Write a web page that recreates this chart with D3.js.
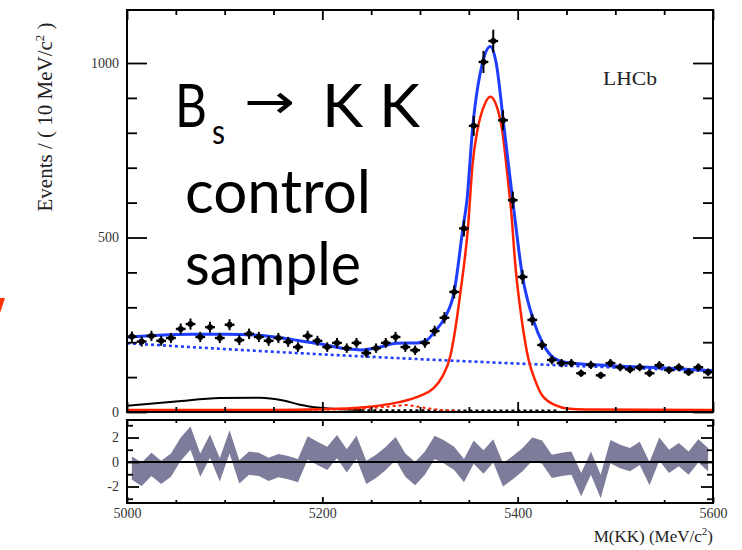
<!DOCTYPE html>
<html>
<head>
<meta charset="utf-8">
<script src="https://cdn.jsdelivr.net/npm/d3@7"></script>
<style>
  body { margin: 0; background: #fff; }
  svg { display: block; }
</style>
</head>
<body>
<script>
// bin centres (10 MeV bins)
var binCenters = [5005,5015,5025,5035,5045,5055,5065,5075,5085,5095,
                  5105,5115,5125,5135,5145,5155,5165,5175,5185,5195,
                  5205,5215,5225,5235,5245,5255,5265,5275,5285,5295,
                  5305,5315,5325,5335,5345,5355,5365,5375,5385,5395,
                  5405,5415,5425,5435,5445,5455,5465,5475,5485,5495,
                  5505,5515,5525,5535,5545,5555,5565,5575,5585,5595];

var counts = [216,202,218,204,212,238,252,215,243,212,
              250,206,224,215,204,212,201,186,218,204,
              186,198,183,198,169,183,198,215,186,177,
              198,232,270,344,526,820,1003,1063,836,607,
              387,264,192,149,140,140,111,135,105,140,
              128,122,128,111,134,120,128,114,128,114];

var pulls = [-0.5,-1,-0.2,-0.85,-0.25,1.05,1.95,-0.25,1.3,-0.65,
             1.65,-0.8,-0.1,-0.2,-0.6,-0.3,-0.45,-0.7,1.15,0.7,
             0.3,1.25,0.1,1.2,-0.85,-0.35,0.3,1.1,-0.25,-0.95,
             -0.1,1.2,0.8,0.3,-0.7,0.8,0,0.9,-1.05,-0.45,
             0.2,1.05,0.8,-0.35,-0.2,-0.1,-1.85,-0.1,-2,0.85,
             0.45,0.2,0.7,-0.95,1.05,0.05,0.6,-0.1,0.9,0.2];

// fit components: [mass, events]
var totalFit = [[5000,214],[5033,220],[5066,223],[5100,223],[5134,220],[5159,212],[5175,205],
                [5200,194],[5225,181],[5240,178],[5260,187],[5276,197],[5297,198],[5307,206],
                [5315,230],[5325,268],[5335,345],[5344,527],[5348,605],[5354,817],[5364,1000],
                [5372,1047],[5378,1000],[5386,817],[5395,605],[5405,388],[5416,264],[5426,195],
                [5437,155],[5450,142],[5475,136],[5500,132],[5550,126],[5600,118]];

var signalFit = [[5000,6],[5150,6],[5200,8],[5240,13],[5260,19],[5280,29],[5300,46],[5313,66],
                 [5323,102],[5331,160],[5336,235],[5341,335],[5349,525],[5354,715],[5359,810],
                 [5366,880],[5372,903],[5378,880],[5384,810],[5390,665],[5394,555],[5397,440],
                 [5404,268],[5411,152],[5418,90],[5425,48],[5440,18],[5450,10],[5470,7],[5600,6]];

var bkgFit = [[5000,197],[5160,171],[5280,154],[5433,135],[5600,117]];

var partRecoFit = [[5000,18],[5050,30],[5095,40],[5136,41],[5160,33],[5177,21],[5198,12],
                   [5225,7],[5240,6]];

var otherFit = [[5240,5],[5440,4]];

var redDottedFit = [[5180,6],[5240,10],[5270,16],[5285,20],[5300,14],[5320,6],[5340,3]];

var yTicksMain = [0,500,1000];
var yTicksPull = [-2,0,2];
var xTicks = [5000,5200,5400,5600];

var W = 742, H = 550;
var svg = d3.select("body").append("svg")
    .attr("width", W)
    .attr("height", H);

// panels
var main = {left: 127, right: 713, top: 10, bottom: 412};
var low = {left: 127, right: 713, top: 420, bottom: 503};

var x = d3.scaleLinear().domain([5000, 5600]).range([main.left, main.right]);
var y = d3.scaleLinear().domain([0, 1000]).range([412, 63]);
var yp = d3.scaleLinear().domain([-2, 2]).range([486.5, 437.5]);

svg.append("defs").append("clipPath").attr("id", "clipMain")
  .append("rect")
    .attr("x", main.left).attr("y", main.top)
    .attr("width", main.right - main.left).attr("height", main.bottom - main.top);

// little red mark on the left edge
svg.append("path")
    .attr("d", "M0,298L5,298L0,313Z")
    .attr("fill", "#ff3300");

// ---- pull panel ----
var band = d3.area()
    .x(function(d, i) { return x(binCenters[i]); })
    .y0(function(d) { return yp(d - 0.95); })
    .y1(function(d) { return yp(d + 0.95); });

svg.append("path")
    .datum(pulls)
    .attr("d", band)
    .attr("fill", "#7d7d9b");

svg.append("line")
    .attr("x1", low.left).attr("x2", low.right)
    .attr("y1", yp(0)).attr("y2", yp(0))
    .attr("stroke", "#000").attr("stroke-width", 2);

// ---- main panel curves ----
var line = d3.line()
    .x(function(d) { return x(d[0]); })
    .y(function(d) { return y(d[1]); })
    .curve(d3.curveMonotoneX);

var curves = svg.append("g").attr("clip-path", "url(#clipMain)");

curves.append("path").datum(bkgFit).attr("d", line)
    .attr("fill", "none").attr("stroke", "#1f3dff").attr("stroke-width", 2.6)
    .attr("stroke-dasharray", "3,3");

curves.append("path").datum(otherFit).attr("d", line)
    .attr("fill", "none").attr("stroke", "#000").attr("stroke-width", 2)
    .attr("stroke-dasharray", "3,3");

curves.append("path").datum(partRecoFit).attr("d", line)
    .attr("fill", "none").attr("stroke", "#000").attr("stroke-width", 2);

curves.append("path").datum(redDottedFit).attr("d", line)
    .attr("fill", "none").attr("stroke", "#ff2200").attr("stroke-width", 2)
    .attr("stroke-dasharray", "3,3");

curves.append("path").datum(signalFit).attr("d", line)
    .attr("fill", "none").attr("stroke", "#ff2200").attr("stroke-width", 2.5);

curves.append("path").datum(totalFit).attr("d", line)
    .attr("fill", "none").attr("stroke", "#1f3dff").attr("stroke-width", 3);

// data points with errors
var pts = svg.append("g").selectAll("g")
    .data(counts)
    .enter().append("g");

pts.append("line")
    .attr("x1", function(d, i) { return x(binCenters[i]); })
    .attr("x2", function(d, i) { return x(binCenters[i]); })
    .attr("y1", function(d) { return y(d + Math.sqrt(d)); })
    .attr("y2", function(d) { return y(d - Math.sqrt(d)); })
    .attr("stroke", "#000").attr("stroke-width", 2);

pts.append("line")
    .attr("x1", function(d, i) { return x(binCenters[i] - 5); })
    .attr("x2", function(d, i) { return x(binCenters[i] + 5); })
    .attr("y1", function(d) { return y(d); })
    .attr("y2", function(d) { return y(d); })
    .attr("stroke", "#000").attr("stroke-width", 2.4);

pts.append("circle")
    .attr("cx", function(d, i) { return x(binCenters[i]); })
    .attr("cy", function(d) { return y(d); })
    .attr("r", 3)
    .attr("fill", "#000");

// ---- frames and axes ----
function frame(p) {
  svg.append("rect")
      .attr("x", p.left).attr("y", p.top)
      .attr("width", p.right - p.left).attr("height", p.bottom - p.top)
      .attr("fill", "none").attr("stroke", "#000").attr("stroke-width", 2);
}
frame(main);
frame(low);

function axis(gen, tx, ty) {
  var g = svg.append("g")
      .attr("transform", "translate(" + tx + "," + ty + ")")
      .call(gen);
  g.select(".domain").remove();
  g.selectAll(".tick line").attr("stroke", "#000").attr("stroke-width", 1.8);
  g.selectAll("text")
      .attr("fill", "#333")
      .style("font-family", "'Liberation Serif', 'Times New Roman', serif")
      .style("font-size", "14px");
  return g;
}

// plain labels: no thousands comma, hyphen minus
var plain = function(d) { return String(d); };

var xMinor = d3.range(5050, 5600, 50).filter(function(v) { return v % 200 !== 0; });
var yMinor = d3.range(100, 1100, 100).filter(function(v) { return v % 500 !== 0; });

// main panel
axis(d3.axisLeft(y).tickValues(yTicksMain).tickSize(-20).tickPadding(8).tickFormat(plain), main.left, 0);
axis(d3.axisLeft(y).tickValues(yMinor).tickSize(-10).tickFormat(""), main.left, 0);
axis(d3.axisRight(y).tickValues(yTicksMain).tickSize(-20).tickFormat(""), main.right, 0);
axis(d3.axisRight(y).tickValues(yMinor).tickSize(-10).tickFormat(""), main.right, 0);
axis(d3.axisTop(x).tickValues(xTicks).tickSize(-10).tickFormat(""), 0, main.top);
axis(d3.axisTop(x).tickValues(xMinor).tickSize(-5).tickFormat(""), 0, main.top);
axis(d3.axisBottom(x).tickValues(xTicks).tickSize(-10).tickFormat(""), 0, main.bottom);
axis(d3.axisBottom(x).tickValues(xMinor).tickSize(-5).tickFormat(""), 0, main.bottom);

// pull panel
var pMinor = [-3, -1, 1, 3];
axis(d3.axisLeft(yp).tickValues(yTicksPull).tickSize(-12).tickPadding(8).tickFormat(plain), low.left, 0);
axis(d3.axisLeft(yp).tickValues(pMinor).tickSize(-6).tickFormat(""), low.left, 0);
axis(d3.axisRight(yp).tickValues(yTicksPull).tickSize(-12).tickFormat(""), low.right, 0);
axis(d3.axisRight(yp).tickValues(pMinor).tickSize(-6).tickFormat(""), low.right, 0);
axis(d3.axisTop(x).tickValues(xTicks).tickSize(-6).tickFormat(""), 0, low.top);
axis(d3.axisTop(x).tickValues(xMinor).tickSize(-3).tickFormat(""), 0, low.top);
axis(d3.axisBottom(x).tickValues(xTicks).tickSize(-6).tickPadding(5).tickFormat(plain), 0, low.bottom);
axis(d3.axisBottom(x).tickValues(xMinor).tickSize(-3).tickFormat(""), 0, low.bottom);

// ---- titles ----
var serif = "'Liberation Serif', 'Times New Roman', serif";

var xt = svg.append("text")
    .attr("x", 713).attr("y", 542)
    .attr("text-anchor", "end")
    .attr("fill", "#222")
    .style("font-family", serif).style("font-size", "17px");
xt.append("tspan").text("M(KK) (MeV/c");
xt.append("tspan").attr("dy", -7).style("font-size", "11px").text("2");
xt.append("tspan").attr("dy", 7).text(")");

var yt = svg.append("text")
    .attr("transform", "translate(52,117) rotate(-90)")
    .attr("text-anchor", "middle")
    .attr("fill", "#222")
    .style("font-family", serif).style("font-size", "21px");
yt.append("tspan").text("Events / ( 10 MeV/c");
yt.append("tspan").attr("dy", -8).style("font-size", "13px").text("2");
yt.append("tspan").attr("dy", 8).text(" )");

svg.append("text")
    .attr("x", 603).attr("y", 85)
    .attr("fill", "#222")
    .attr("textLength", 54).attr("lengthAdjust", "spacingAndGlyphs")
    .style("font-family", serif).style("font-size", "19px")
    .text("LHCb");

// big annotation
var sans = "Lato, 'Open Sans', sans-serif";
function big(txt, px, py, size, len) {
  return svg.append("text")
      .attr("x", px).attr("y", py)
      .attr("fill", "#000")
      .attr("textLength", len).attr("lengthAdjust", "spacingAndGlyphs")
      .style("font-family", sans).style("font-size", size + "px")
      .text(txt);
}
big("B", 175, 127, 60, 32);
big("s", 212, 144, 34, 13);
svg.append("text")
    .attr("x", 244).attr("y", 118)
    .attr("textLength", 51).attr("lengthAdjust", "spacingAndGlyphs")
    .style("font-family", "'DejaVu Sans', sans-serif").style("font-size", "48px")
    .text("\u2192");
big("K K", 322, 127, 60, 98);
big("control", 185, 213, 60, 186);
big("sample", 185, 285, 60, 176);
</script>
</body>
</html>
